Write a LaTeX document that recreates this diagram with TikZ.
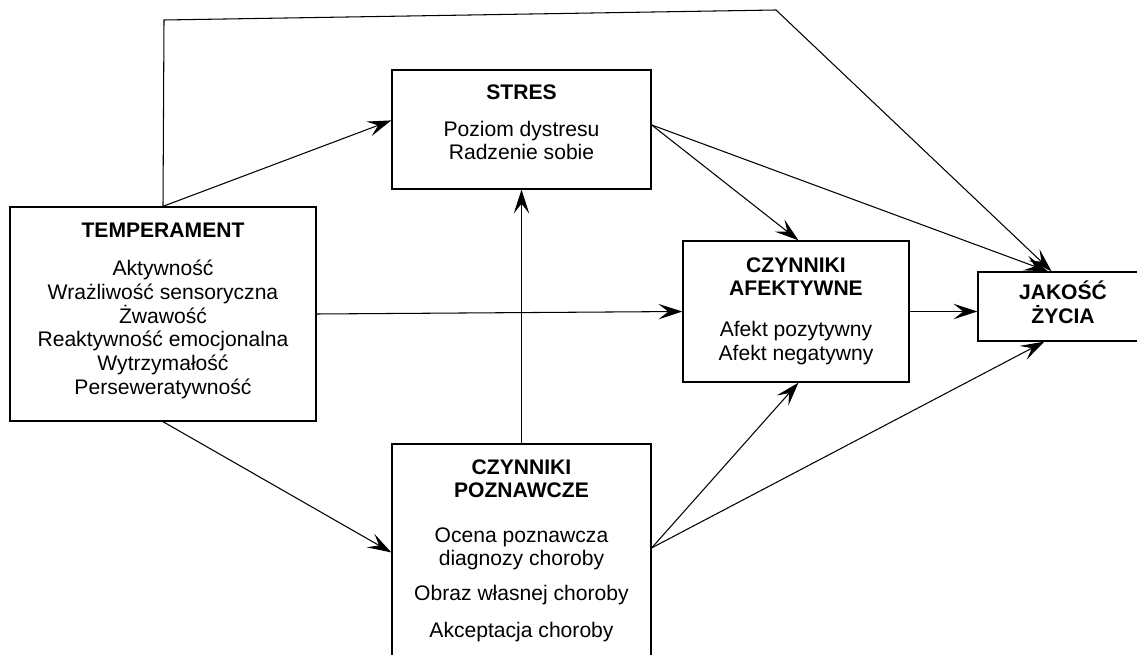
\documentclass[tikz,border=0pt]{standalone}
\usepackage{fontspec}
\setmainfont{Liberation Sans}
\usepackage{tikz}
\usetikzlibrary{positioning,arrows.meta,calc}

\begin{document}
\begin{tikzpicture}[
    x=0.025cm, y=-0.025cm,
    >={Stealth[length=17pt,width=11pt,inset=7pt]},
    box/.style={rectangle, draw, line width=0.9pt, inner sep=0pt},
    boxtext/.style={anchor=north, inner sep=0pt, align=center, font=\fontsize{15}{17}\selectfont},
    arrow/.style={->, line width=0.75pt}
]
\useasboundingbox (0,0) rectangle (1137,655);

\node[box, minimum width=7.65cm, minimum height=5.35cm] (temp) at (163,314) {};
\node[box, minimum width=6.475cm, minimum height=2.975cm] (stres) at (521.5,129.5) {};
\node[box, minimum width=5.65cm, minimum height=3.525cm] (afekt) at (796,311.5) {};
\node[box, minimum width=4.25cm, minimum height=1.725cm] (jakosc) at (1063,306.5) {};
\node[box, minimum width=6.475cm, minimum height=5.65cm] (pozn) at (521.5,557) {};

\node[boxtext] (temptxt) at (163,222.5) {\textbf{TEMPERAMENT}\\[10pt]
  Aktywność\\ Wrażliwość sensoryczna\\ Żwawość\\ Reaktywność emocjonalna\\ Wytrzymałość\\ Perseweratywność};
\node[boxtext] (strestxt) at (521.5,84.5) {\textbf{STRES}\\[9pt] Poziom dystresu\\ Radzenie sobie};
\node[boxtext] (afekttxt) at (796,257.5) {\textbf{CZYNNIKI}\\[-0.6pt] \textbf{AFEKTYWNE}\\[12pt]
  Afekt pozytywny\\ Afekt negatywny};
\node[boxtext] (jakosctxt) at (1063,281) {\textbf{JAKOŚĆ}\\[-0.6pt] \textbf{ŻYCIA}};
\node[boxtext] (pozntxt) at (521.5,459.5) {\textbf{CZYNNIKI}\\[-0.6pt] \textbf{POZNAWCZE}\\[15pt]
  Ocena poznawcza\\[-0.6pt] diagnozy choroby\\[8pt] Obraz własnej choroby\\[9pt] Akceptacja choroby};

% line over the top
\coordinate (top1) at (164,20);
\coordinate (top2) at (776,10);
\draw[arrow] (temp.north) -- (top1) -- (top2) -- (jakosc.108);

\draw[arrow] (temp.north) -- (stres.176);
\draw[arrow] (temp.east) -- (afekt.west);
\draw[arrow] (temp.south) -- (pozn.178);
\draw[arrow] (pozn.north) -- (stres.south);
\draw[arrow] (stres.2.4) -- (afekt.88);
\draw[arrow] (stres.2.4) -- (jakosc.113);
\draw[arrow] (afekt.east) -- (afekt.east -| jakosc.west);
\draw[arrow] (pozn.4.4) -- (afekt.-88);
\draw[arrow] (pozn.4.4) -- (jakosc.242);
\end{tikzpicture}
\end{document}
